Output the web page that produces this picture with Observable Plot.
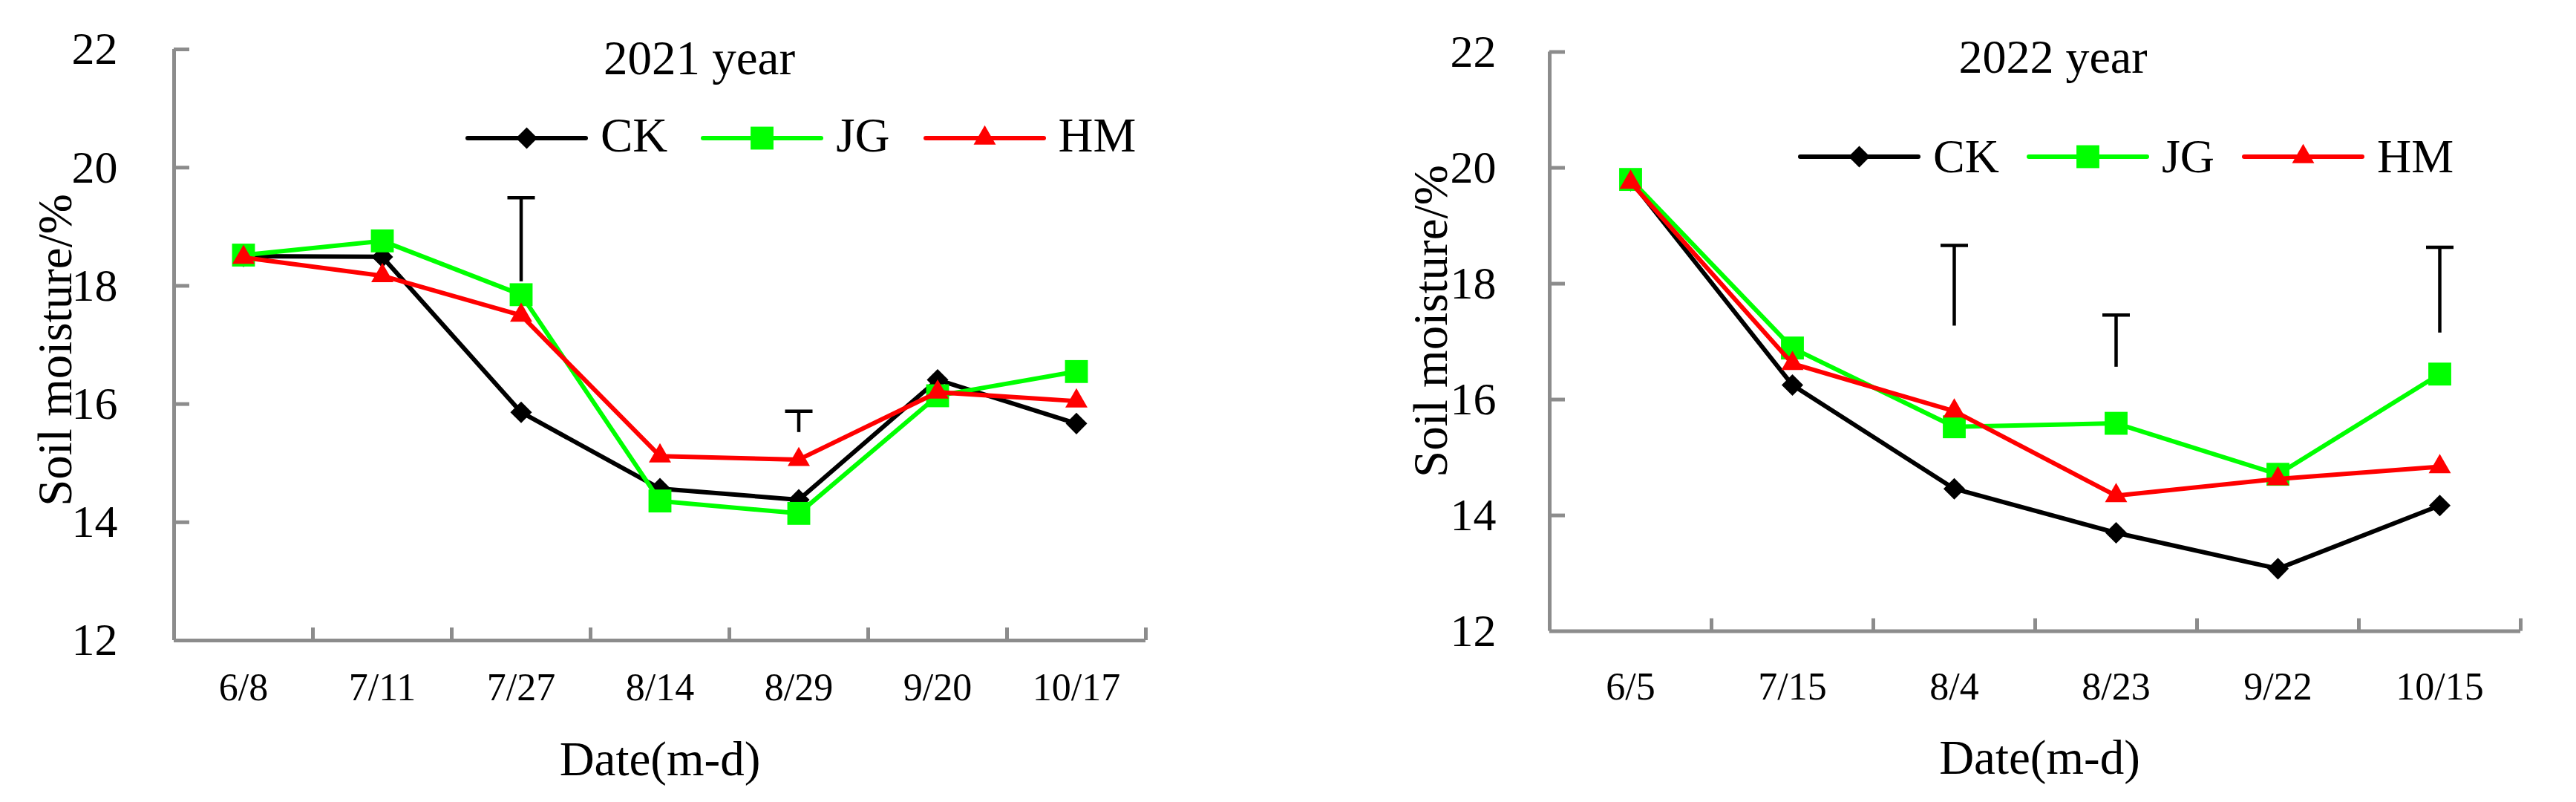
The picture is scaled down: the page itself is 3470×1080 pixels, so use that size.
<!DOCTYPE html>
<html>
<head>
<meta charset="utf-8">
<script src="https://cdn.jsdelivr.net/npm/d3@7"></script>
<script src="https://cdn.jsdelivr.net/npm/@observablehq/plot@0.6"></script>
<style>
  html, body { margin: 0; padding: 0; background: #fff; }
  #wrap { position: relative; width: 3470px; height: 1080px; background: #fff; overflow: hidden; }
  .legend { position: absolute; display: flex; align-items: center; font-family: 'Liberation Serif', 'Times New Roman', serif; color: #000; }
  .legend span { line-height: 1; position: relative; }
</style>
</head>
<body>
<div id="wrap"></div>
<script>
// ---------------- data ----------------
const seriesNames = ["CK", "JG", "HM"];
const seriesColors = ["#000000", "#00ff00", "#ff0000"];
const yTicks = [12, 14, 16, 18, 20, 22];

const dates2021 = ["6/8", "7/11", "7/27", "8/14", "8/29", "9/20", "10/17"];
const ck2021 = [18.50, 18.49, 15.86, 14.57, 14.38, 16.41, 15.67];
const jg2021 = [18.52, 18.76, 17.85, 14.36, 14.15, 16.14, 16.55];
const hm2021 = [18.48, 18.17, 17.50, 15.12, 15.06, 16.20, 16.05];
const errDate2021 = ["7/27", "8/29"];
const errLow2021 = [18.07, 15.52];
const errHigh2021 = [19.49, 15.88];

const dates2022 = ["6/5", "7/15", "8/4", "8/23", "9/22", "10/15"];
const ck2022 = [19.78, 16.25, 14.46, 13.70, 13.08, 14.17];
const jg2022 = [19.80, 16.89, 15.53, 15.59, 14.71, 16.44];
const hm2022 = [19.75, 16.62, 15.80, 14.34, 14.63, 14.84];
const errDate2022 = ["8/4", "8/23", "10/15"];
const errLow2022 = [17.27, 16.56, 17.15];
const errHigh2022 = [18.66, 17.46, 18.63];

// ---------------- styling ----------------
const FONT = "'Liberation Serif', 'Times New Roman', serif";
const AXIS = "#8c8c8c";
const symbols = [d3.symbolDiamond2, d3.symbolSquare, d3.symbolTriangle2];
const symbolR = [13.1, 17.4, 14.3];
const capSymbol = { draw(ctx) { ctx.moveTo(-18.5, 0); ctx.lineTo(18.5, 0); } };

function makeChart(cfg) {
  const {dates, values, errDates, errLow, errHigh, m, title, fs} = cfg;
  const W = 1735, H = 1080;
  const plotW = W - m.left - m.right, plotH = H - m.top - m.bottom;
  const n = dates.length;
  const idx = d3.range(n);
  const bounds = idx.map(i => i + 0.5);
  const errRows = errDates.map((d, k) => ({i: dates.indexOf(d), lo: errLow[k], hi: errHigh[k]}));
  const marks = [
    Plot.ruleY(yTicks.filter(t => t > 12), {y: d => d, stroke: AXIS, strokeWidth: 5, insetRight: plotW - 21}),
    Plot.ruleX(bounds, {x: d => d, stroke: AXIS, strokeWidth: 5, insetTop: plotH - 17}),
    Plot.ruleX([-0.5], {stroke: AXIS, strokeWidth: 5}),
    Plot.ruleY([12], {stroke: AXIS, strokeWidth: 5}),
    Plot.ruleX(errRows, {x: "i", y1: "lo", y2: "hi", stroke: "#000", strokeWidth: 4.5}),
    Plot.dot(errRows, {x: "i", y: "hi", symbol: capSymbol, r: 1, fill: "none", stroke: "#000", strokeWidth: 4.5})
  ];
  values.forEach((vals, s) => {
    const rows = vals.map((v, i) => ({i, v}));
    marks.push(Plot.line(rows, {x: "i", y: "v", stroke: seriesColors[s], strokeWidth: 6, strokeLinejoin: "round"}));
    marks.push(Plot.dot(rows, {x: "i", y: "v", symbol: symbols[s], r: symbolR[s], fill: seriesColors[s], stroke: "none"}));
  });
  marks.push(
    Plot.text(yTicks, {y: d => d, text: d => String(d), frameAnchor: "left", textAnchor: "end", dx: fs.yLabelDx, fontSize: 62, fill: "#000"}),
    Plot.text(idx, {x: d => d, text: d => dates[d], frameAnchor: "bottom", lineAnchor: "bottom", dy: fs.xLabelDy, fontSize: 52, fill: "#000"}),
    Plot.text(["Date(m-d)"], {frameAnchor: "bottom", lineAnchor: "bottom", textAnchor: "middle", dx: fs.xTitleDx, dy: fs.xTitleDy, fontSize: 65, fill: "#000"}),
    Plot.text(["Soil moisture/%"], {frameAnchor: "left", rotate: -90, textAnchor: "middle", lineAnchor: "bottom", dx: -139, dy: fs.yTitleDy, fontSize: 65, fill: "#000"}),
    Plot.text([title], {frameAnchor: "top", lineAnchor: "bottom", textAnchor: "middle", dx: fs.titleDx, dy: fs.titleDy, fontSize: fs.titleSize, fill: "#000"})
  );
  const svg = Plot.plot({
    width: W, height: H,
    marginLeft: m.left, marginRight: m.right, marginTop: m.top, marginBottom: m.bottom,
    x: {type: "linear", domain: [-0.5, n - 0.5], axis: null},
    y: {type: "linear", domain: [12, 22], axis: null},
    style: {fontFamily: FONT, background: "transparent", overflow: "visible"},
    marks
  });
  return svg;
}

function makeLegend(left, top, gapAfter, textSize, textShift) {
  const div = document.createElement("div");
  div.className = "legend";
  div.style.left = left + "px";
  div.style.top = top + "px";
  div.style.fontSize = textSize + "px";
  seriesNames.forEach((name, s) => {
    const svg = d3.create("svg").attr("width", 165).attr("height", 36).style("display", "block");
    svg.append("line").attr("x1", 3).attr("x2", 162).attr("y1", 18).attr("y2", 18)
      .attr("stroke", seriesColors[s]).attr("stroke-width", 6).attr("stroke-linecap", "round");
    svg.append("path").attr("transform", "translate(82.5,18)")
      .attr("d", d3.symbol(symbols[s], Math.PI * symbolR[s] * symbolR[s])())
      .attr("fill", seriesColors[s]);
    div.appendChild(svg.node());
    const span = document.createElement("span");
    span.textContent = name;
    span.style.marginLeft = "17px";
    span.style.marginRight = (s < seriesNames.length - 1 ? gapAfter : 0) + "px";
    span.style.top = textShift + "px";
    div.appendChild(span);
  });
  return div;
}

const wrap = document.getElementById("wrap");

const c1 = makeChart({
  dates: dates2021, values: [ck2021, jg2021, hm2021],
  errDates: errDate2021, errLow: errLow2021, errHigh: errHigh2021,
  m: {left: 234, right: 192, top: 66, bottom: 218}, title: "2021 year",
  fs: {yLabelDx: -76, xLabelDy: 80, xTitleDx: 0, xTitleDy: 181, yTitleDy: 7, titleDx: 53, titleDy: 33, titleSize: 65}
});
c1.style.position = "absolute"; c1.style.left = "0px"; c1.style.top = "0px"; c1.style.maxWidth = "none";
wrap.appendChild(c1);

const c2 = makeChart({
  dates: dates2022, values: [ck2022, jg2022, hm2022],
  errDates: errDate2022, errLow: errLow2022, errHigh: errHigh2022,
  m: {left: 352, right: 75, top: 69.5, bottom: 230.4}, title: "2022 year",
  fs: {yLabelDx: -72, xLabelDy: 92, xTitleDx: 6, xTitleDy: 192, yTitleDy: -27.5, titleDx: 24, titleDy: 27.5, titleSize: 64}
});
c2.style.position = "absolute"; c2.style.left = "1735px"; c2.style.top = "0px"; c2.style.maxWidth = "none";
wrap.appendChild(c2);

wrap.appendChild(makeLegend(627, 153.5, 45, 65, -4));
wrap.appendChild(makeLegend(2422, 179.2, 37, 64, 0));
</script>
</body>
</html>
